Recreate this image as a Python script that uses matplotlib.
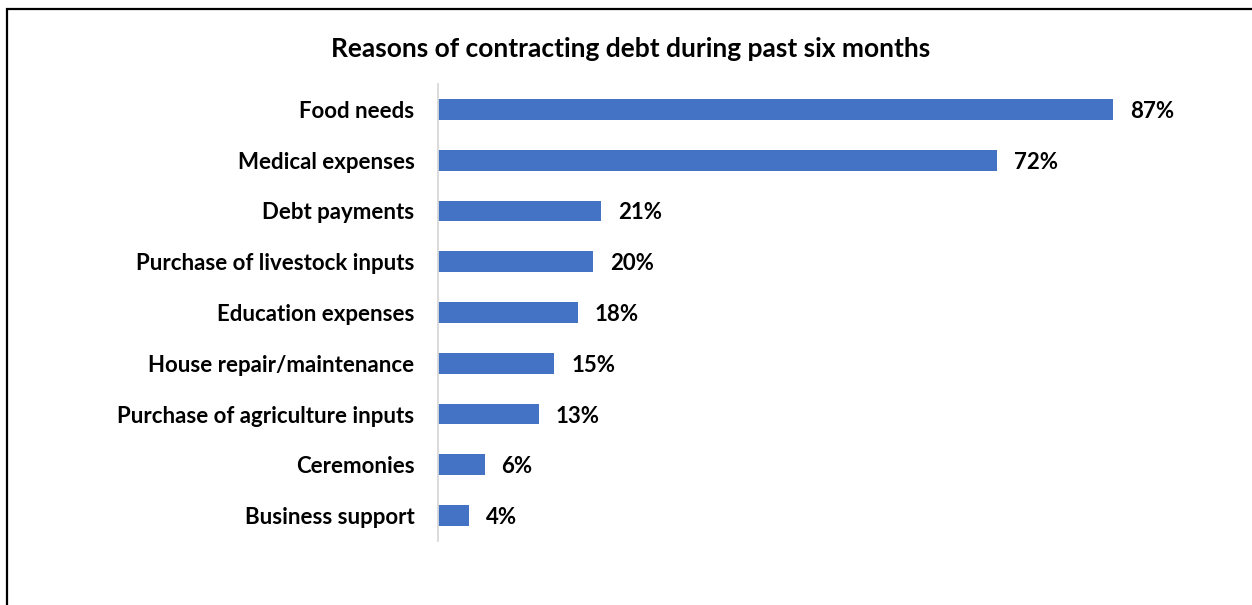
import matplotlib
matplotlib.use("Agg")
import matplotlib.pyplot as plt
from matplotlib.patches import Rectangle

categories = [
    "Food needs",
    "Medical expenses",
    "Debt payments",
    "Purchase of livestock inputs",
    "Education expenses",
    "House repair/maintenance",
    "Purchase of agriculture inputs",
    "Ceremonies",
    "Business support",
]
values = [87, 72, 21, 20, 18, 15, 13, 6, 4]
title = "Reasons of contracting debt during past six months"

plt.rcParams["font.family"] = ["Lato", "DejaVu Sans"]

W, H = 1252, 605
fig = plt.figure(figsize=(W / 100, H / 100), dpi=100)
fig.patch.set_facecolor("white")

ax = fig.add_axes([438 / W, 1 - 541 / H, (1214 - 438) / W, (541 - 84) / H])
ypos = list(range(len(categories)))
ax.barh(ypos, values, height=0.41, color="#4472C4")
ax.set_xlim(0, 100)
ax.set_ylim(len(categories) - 0.5, -0.5)
ax.set_yticks(ypos)
ax.set_yticklabels(categories, fontsize=16, fontweight="bold", va="center_baseline")
ax.tick_params(axis="y", length=0, pad=17)
ax.set_xticks([])
for s in ["top", "right", "bottom"]:
    ax.spines[s].set_visible(False)
ax.spines["left"].set_color("#D9D9D9")
ax.spines["left"].set_linewidth(1.3)

for y, v in zip(ypos, values):
    ax.annotate(f"{v}%", xy=(v, y), xytext=(17, 0), textcoords="offset pixels",
                va="center_baseline", ha="left", fontsize=16, fontweight="bold")

fig.text(631 / W, 1 - 47 / H, title, ha="center", va="center_baseline", fontsize=19, fontweight="bold")

# outer frame
fig.add_artist(Rectangle((7 / W, -0.1), 1.2, 1 - 9 / H + 0.1, transform=fig.transFigure,
                         fill=False, edgecolor="black", linewidth=1.6, clip_on=False))

fig.savefig("out.png", dpi=100)
